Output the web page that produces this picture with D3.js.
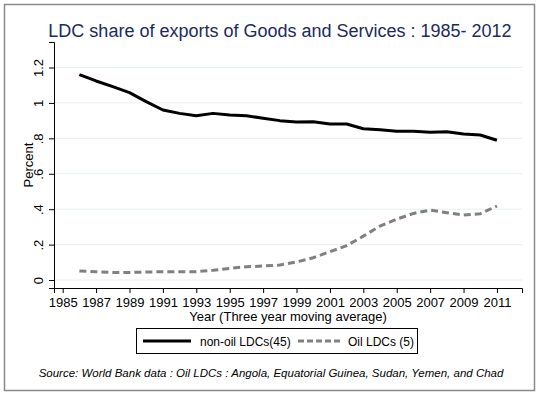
<!DOCTYPE html>
<html>
<head>
<meta charset="utf-8">
<script src="https://cdn.jsdelivr.net/npm/d3@7"></script>
<style>
  body { margin: 0; background: #fff; }
  svg text { font-family: "Liberation Sans", Arial, sans-serif; }
</style>
</head>
<body>
<div id="chart"></div>
<script>
// Chart data
const years = d3.range(1986, 2012);
const nonOil = [1.16, 1.124, 1.092, 1.058, 1.007, 0.960, 0.941, 0.928, 0.941, 0.932,
                0.928, 0.913, 0.900, 0.892, 0.894, 0.881, 0.881, 0.854, 0.849, 0.840,
                0.840, 0.834, 0.837, 0.824, 0.819, 0.789];
const oil = [0.051, 0.047, 0.043, 0.043, 0.045, 0.047, 0.047, 0.047, 0.055, 0.066,
             0.075, 0.079, 0.085, 0.102, 0.126, 0.160, 0.194, 0.248, 0.305, 0.344,
             0.376, 0.395, 0.380, 0.367, 0.374, 0.418];
const yTicks = [0, 0.2, 0.4, 0.6, 0.8, 1, 1.2];
const yTickLabels = ["0", ".2", ".4", ".6", ".8", "1", "1.2"];
const xTicks = d3.range(1985, 2012, 2);
const seriesNames = ["non-oil LDCs(45)", "Oil LDCs (5)"];

const width = 540, height = 395;
const plot = { left: 54, right: 522, top: 42, bottom: 288 };

const svg = d3.select("#chart").append("svg")
    .attr("width", width)
    .attr("height", height);

// outer frame
svg.append("rect")
    .attr("x", 4.5).attr("y", 4.5)
    .attr("width", 530).attr("height", 386)
    .attr("fill", "#fff")
    .attr("stroke", "#8a8a8a")
    .attr("stroke-width", 1.5);

// title
svg.append("text")
    .attr("x", 280).attr("y", 37)
    .attr("text-anchor", "middle")
    .attr("fill", "#1a2b5c")
    .style("font-size", "18px")
    .text("LDC share of exports of Goods and Services : 1985- 2012");

const x = d3.scaleLinear().domain([1984.48, 2012.5]).range([plot.left, plot.right]);
const y = d3.scaleLinear().domain([-0.045, 1.344]).range([plot.bottom, plot.top]);

// gridlines
svg.append("g").selectAll("line")
    .data(yTicks)
    .enter().append("line")
    .attr("x1", plot.left).attr("x2", plot.right)
    .attr("y1", d => y(d)).attr("y2", d => y(d))
    .attr("stroke", "#e6eff1")
    .attr("stroke-width", 1);

// y axis
const yAxis = d3.axisLeft(y)
    .tickValues(yTicks)
    .tickSize(5)
    .tickFormat((d, i) => yTickLabels[i]);
const yG = svg.append("g")
    .attr("transform", `translate(${plot.left}, 0)`)
    .call(yAxis);
yG.select(".domain").attr("stroke", "#000");
yG.selectAll(".tick line").attr("stroke", "#000");
yG.selectAll("text")
    .attr("x", 0).attr("y", -11).attr("dy", 0)
    .attr("transform", "rotate(-90)")
    .style("text-anchor", "middle")
    .style("font-size", "13px")
    .attr("fill", "#000");

// x axis
const xAxis = d3.axisBottom(x)
    .tickValues(xTicks)
    .tickSize(5)
    .tickFormat(d3.format("d"));
const xG = svg.append("g")
    .attr("transform", `translate(0, ${plot.bottom})`)
    .call(xAxis);
xG.select(".domain").attr("stroke", "#000");
xG.selectAll(".tick line").attr("stroke", "#000");
xG.selectAll("text")
    .attr("y", 10)
    .style("font-size", "13px")
    .attr("fill", "#000");

// axis titles
svg.append("text")
    .attr("transform", `translate(33, ${(plot.top + plot.bottom) / 2}) rotate(-90)`)
    .attr("text-anchor", "middle")
    .style("font-size", "13px")
    .text("Percent");

svg.append("text")
    .attr("x", (plot.left + plot.right) / 2).attr("y", 321)
    .attr("text-anchor", "middle")
    .style("font-size", "13px")
    .text("Year (Three year moving average)");

// lines
const line = d3.line()
    .x((d, i) => x(years[i]))
    .y(d => y(d));

svg.append("path")
    .datum(nonOil)
    .attr("d", line)
    .attr("fill", "none")
    .attr("stroke", "#000")
    .attr("stroke-width", 3)
    .attr("stroke-linejoin", "round");

svg.append("path")
    .datum(oil)
    .attr("d", line)
    .attr("fill", "none")
    .attr("stroke", "#808080")
    .attr("stroke-width", 3)
    .attr("stroke-dasharray", "7,4");

// legend
const legend = svg.append("g");
legend.append("rect")
    .attr("x", 136.5).attr("y", 328.5)
    .attr("width", 281).attr("height", 25)
    .attr("fill", "#fff")
    .attr("stroke", "#000")
    .attr("stroke-width", 1);
legend.append("line")
    .attr("x1", 143).attr("x2", 191)
    .attr("y1", 341).attr("y2", 341)
    .attr("stroke", "#000").attr("stroke-width", 3);
legend.append("text")
    .attr("x", 200).attr("y", 345.5)
    .style("font-size", "12px")
    .text(seriesNames[0]);
legend.append("line")
    .attr("x1", 298).attr("x2", 341)
    .attr("y1", 341).attr("y2", 341)
    .attr("stroke", "#808080").attr("stroke-width", 3)
    .attr("stroke-dasharray", "6,3");
legend.append("text")
    .attr("x", 348).attr("y", 345.5)
    .style("font-size", "12px")
    .text(seriesNames[1]);

// source note
svg.append("text")
    .attr("x", 271).attr("y", 377)
    .attr("text-anchor", "middle")
    .style("font-size", "11.5px")
    .style("font-style", "italic")
    .text("Source: World Bank data : Oil LDCs : Angola, Equatorial Guinea, Sudan, Yemen, and Chad");
</script>
</body>
</html>
